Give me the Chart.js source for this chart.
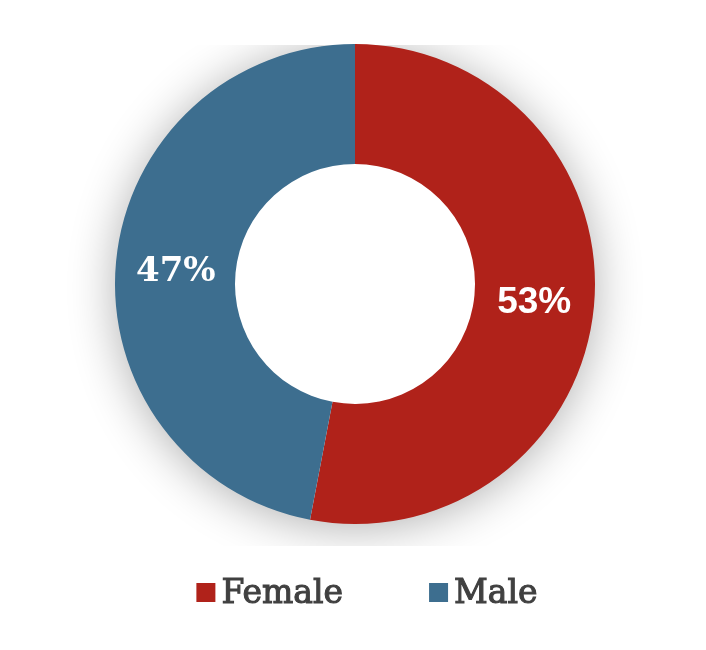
<!DOCTYPE html>
<html>
<head>
<meta charset="utf-8">
<script src="https://cdn.jsdelivr.net/npm/chart.js@4/dist/chart.umd.min.js"></script>
<style>
  html, body { margin: 0; padding: 0; background: #ffffff; }
  #wrap { position: relative; width: 706px; height: 650px; }
</style>
</head>
<body>
<div id="wrap"><canvas id="c" width="706" height="650"></canvas></div>
<script>
const categories = ["Female", "Male"];
const values = [53, 47];
const valueLabels = ["53%", "47%"];
const colors = ["#B0221A", "#3D6E8F"];

const shadowPlugin = {
  id: 'ringShadow',
  beforeDatasetsDraw(chart) {
    const meta = chart.getDatasetMeta(0);
    const arc = meta.data[0];
    if (!arc) return;
    const ctx = chart.ctx;
    ctx.save();
    ctx.beginPath();
    ctx.rect(0, arc.y - arc.outerRadius + 1, chart.width, arc.outerRadius * 2 + 21);
    ctx.clip();
    ctx.shadowColor = 'rgba(0,0,0,0.32)';
    ctx.shadowBlur = 48;
    ctx.shadowOffsetX = 0;
    ctx.shadowOffsetY = 4;
    ctx.fillStyle = '#ffffff';
    ctx.beginPath();
    ctx.arc(arc.x, arc.y, arc.outerRadius - 1, 0, Math.PI * 2);
    ctx.fill();
    ctx.restore();
  }
};

const labelPlugin = {
  id: 'sliceLabels',
  afterDatasetsDraw(chart) {
    const ctx = chart.ctx;
    const meta = chart.getDatasetMeta(0);
    const fonts = ['bold 37px "Liberation Sans", Arial, sans-serif',
                   'bold 34px "DejaVu Serif", serif'];
    const dy = [2, 5];
    meta.data.forEach((arc, i) => {
      const p = arc.tooltipPosition();
      ctx.save();
      ctx.fillStyle = '#ffffff';
      ctx.font = fonts[i];
      ctx.textAlign = 'center';
      ctx.textBaseline = 'middle';
      ctx.fillText(valueLabels[i], p.x, p.y + dy[i]);
      ctx.restore();
    });
  }
};

const legendPlugin = {
  id: 'customLegend',
  afterDraw(chart) {
    const ctx = chart.ctx;
    ctx.save();
    ctx.font = '33px "DejaVu Serif", serif';
    const box = 19, gap = 6, itemGap = 86;
    const widths = categories.map(c => box + gap + ctx.measureText(c).width);
    const total = widths.reduce((a, b) => a + b, 0) + itemGap * (categories.length - 1);
    let x = 367 - total / 2;
    const baseline = 603;
    categories.forEach((c, i) => {
      ctx.fillStyle = colors[i];
      ctx.fillRect(x, baseline - 20, box, box);
      ctx.fillStyle = '#404040';
      ctx.strokeStyle = '#404040';
      ctx.lineWidth = 1.1;
      ctx.textAlign = 'left';
      ctx.textBaseline = 'alphabetic';
      ctx.fillText(c, x + box + gap, baseline);
      ctx.strokeText(c, x + box + gap, baseline);
      x += widths[i] + itemGap;
    });
    ctx.restore();
  }
};

new Chart(document.getElementById('c'), {
  type: 'doughnut',
  data: {
    labels: categories,
    datasets: [{
      data: values,
      backgroundColor: colors,
      borderWidth: 0,
      hoverOffset: 0
    }]
  },
  options: {
    responsive: false,
    animation: false,
    cutout: '50%',
    rotation: 0,
    layout: { padding: { top: 44, bottom: 126, left: 4, right: 0 } },
    plugins: {
      legend: { display: false },
      tooltip: { enabled: false }
    }
  },
  plugins: [shadowPlugin, labelPlugin, legendPlugin]
});
</script>
</body>
</html>
